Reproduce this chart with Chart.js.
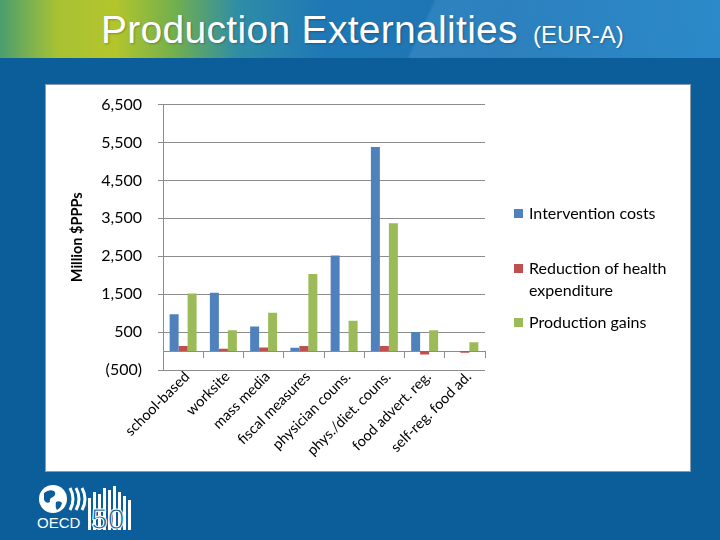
<!DOCTYPE html>
<html>
<head>
<meta charset="utf-8">
<script src="https://cdn.jsdelivr.net/npm/chart.js@4.4.0/dist/chart.umd.min.js"></script>
<style>
  html, body { margin: 0; padding: 0; }
  body { width: 720px; height: 540px; background: #0b5e99; position: relative; overflow: hidden; font-family: "Liberation Sans", Arial, sans-serif; }
  #header {
    position: absolute; left: 0; top: 0; width: 720px; height: 58px;
    background:
      linear-gradient(115deg, rgba(255,255,255,0) 0%, rgba(255,255,255,0) 58%, rgba(120,190,240,0.18) 58.5%, rgba(120,190,240,0.12) 100%),
      linear-gradient(90deg, #4a9e6e 0%, #a8c233 8%, #b3c52c 16%, #74b04c 24%, #2f8da6 33%, #1f78b6 45%, #1d74b3 70%, #2182c4 100%);
  }
  #title { position: absolute; left: 101px; top: 8px; color: #fff; font-size: 39px; letter-spacing: 0.3px; white-space: nowrap; text-shadow: 1px 1px 2px rgba(0,0,0,0.25); }
  #title small { font-size: 24px; letter-spacing: 0; margin-left: 4px; }
  #box { position: absolute; left: 45px; top: 84px; width: 646px; height: 388px; box-sizing: border-box; background: #fff; border: 1px solid #8d9aab; }
  /* canvas starts a bit above the box: y tick padding forces a minimum top gap */
  #chartWrap { position: absolute; left: 0; top: -6px; width: 644px; height: 392px; }
  #legend { position: absolute; left: 468px; top: 0; font-family: Lato, "Open Sans", sans-serif; font-size: 16px; color: #000; }
  .leg { position: absolute; left: 0; white-space: nowrap; line-height: 22px; }
  .leg i { position: absolute; left: 0; top: 7px; width: 9px; height: 9px; }
  .leg span { display: block; margin-left: 15px; }
  #logo { position: absolute; left: 36px; top: 484px; }
</style>
</head>
<body>
<div id="header"></div>
<div id="title">Production Externalities <small>(EUR-A)</small></div>

<div id="box">
  <div id="chartWrap"><canvas id="chart"></canvas></div>
  <div id="legend"></div>
</div>

<svg id="logo" width="100" height="48" viewBox="0 0 100 48">
  <circle cx="17" cy="15" r="14" fill="#fff"/>
  <path d="M8 9 q5 -4 10 -2 q3 3 -1 6 q-4 1 -3 5 q-4 2 -6 -2 z M20 18 q4 -2 6 1 q-1 5 -5 7 q-2 -3 -1 -8 z" fill="#0b5e99"/>
  <path d="M34 4 q6 11 0 22" stroke="#fff" stroke-width="3" fill="none"/>
  <path d="M40 4 q6 11 0 22" stroke="#fff" stroke-width="3" fill="none"/>
  <path d="M46 4 q6 11 0 22" stroke="#fff" stroke-width="3" fill="none"/>
  <text x="1" y="44" fill="#fff" font-family="Liberation Sans, Arial" font-size="15">OECD</text>
  <g fill="#fff">
    <rect x="52" y="14" width="3" height="32"/><rect x="57" y="8" width="3" height="38"/>
    <rect x="62" y="10" width="3" height="36"/><rect x="67" y="4" width="3" height="42"/>
    <rect x="72" y="6" width="3" height="40"/><rect x="77" y="2" width="3" height="44"/>
    <rect x="82" y="8" width="3" height="38"/><rect x="87" y="12" width="3" height="34"/>
    <rect x="92" y="16" width="3" height="30"/>
  </g>
  <text x="55" y="45" fill="#0b5e99" stroke="#fff" stroke-width="1" font-family="Liberation Sans, Arial" font-size="30">50</text>
</svg>

<script>
// categories and series (Million $PPPs)
const categories = ['school-based', 'worksite', 'mass media', 'fiscal measures', 'physician couns.',
  'phys./diet. couns.', 'food advert. reg.', 'self-reg. food ad.'];
const interventionCosts = [970, 1540, 650, 90, 2520, 5380, 505, 0];
const healthReduction = [130, 60, 95, 130, 0, 130, -90, -45];
const productionGains = [1520, 550, 1010, 2030, 800, 3370, 550, 230];

const seriesNames = ['Intervention costs', 'Reduction of health\nexpenditure', 'Production gains'];
const seriesColors = ['#4f81bd', '#c0504d', '#9bbb59'];
const legendTops = [117, 172, 226];

const yMin = -500, yMax = 6500, yStep = 1000;

function fmt(v) {
  const s = Math.abs(v).toLocaleString('en-US');
  return v < 0 ? '(' + s + ')' : s;
}

// legend built from the series lists
const legendEl = document.getElementById('legend');
seriesNames.forEach((name, i) => {
  const d = document.createElement('div');
  d.className = 'leg';
  d.style.top = legendTops[i] + 'px';
  d.innerHTML = '<i style="background:' + seriesColors[i] + '"></i>' +
    name.split('\n').map(t => '<span>' + t + '</span>').join('');
  legendEl.appendChild(d);
});

const allSeries = [interventionCosts, healthReduction, productionGains];
const ctx = document.getElementById('chart').getContext('2d');
new Chart(ctx, {
  type: 'bar',
  data: {
    labels: categories,
    datasets: allSeries.map((vals, i) => ({
      label: seriesNames[i].replace('\n', ' '),
      data: vals,
      backgroundColor: seriesColors[i],
      borderWidth: 0,
      xAxisID: 'x',
      categoryPercentage: 0.67,
      barPercentage: 1.0
    }))
  },
  options: {
    responsive: true,
    maintainAspectRatio: false,
    animation: false,
    layout: { padding: { left: 0, right: 205, top: 10, bottom: 0 } },
    plugins: { legend: { display: false }, tooltip: { enabled: false } },
    scales: {
      // category axis drawn through zero, with tick marks between groups
      x: {
        type: 'category',
        position: { y: 0 },
        grid: { drawOnChartArea: false, drawTicks: true, tickLength: 6, color: '#8c8c8c', offset: true },
        border: { color: '#8c8c8c' },
        ticks: { display: false }
      },
      // labels below the plot
      x2: {
        type: 'category',
        position: 'bottom',
        offset: true,
        grid: { display: false, drawTicks: false },
        border: { display: false },
        ticks: {
          autoSkip: false, maxRotation: 45, minRotation: 45, padding: -2, labelOffset: 4, color: '#000',
          font: { family: 'Lato', size: 14.5 }
        },
        afterFit: s => { s.height = 101; }
      },
      y: {
        min: yMin, max: yMax,
        ticks: {
          stepSize: yStep, padding: 16, color: '#000',
          font: { family: 'Lato', size: 16 },
          callback: v => fmt(v)
        },
        grid: { color: '#8c8c8c', tickLength: 5 },
        border: { color: '#8c8c8c' },
        title: {
          display: true, text: 'Million $PPPs', color: '#000',
          font: { family: 'Lato', size: 14.5, weight: 'bold' },
          padding: { top: 23, bottom: 0 }
        },
        afterFit: s => { s.width = 117; }
      }
    }
  }
});
</script>
</body>
</html>
